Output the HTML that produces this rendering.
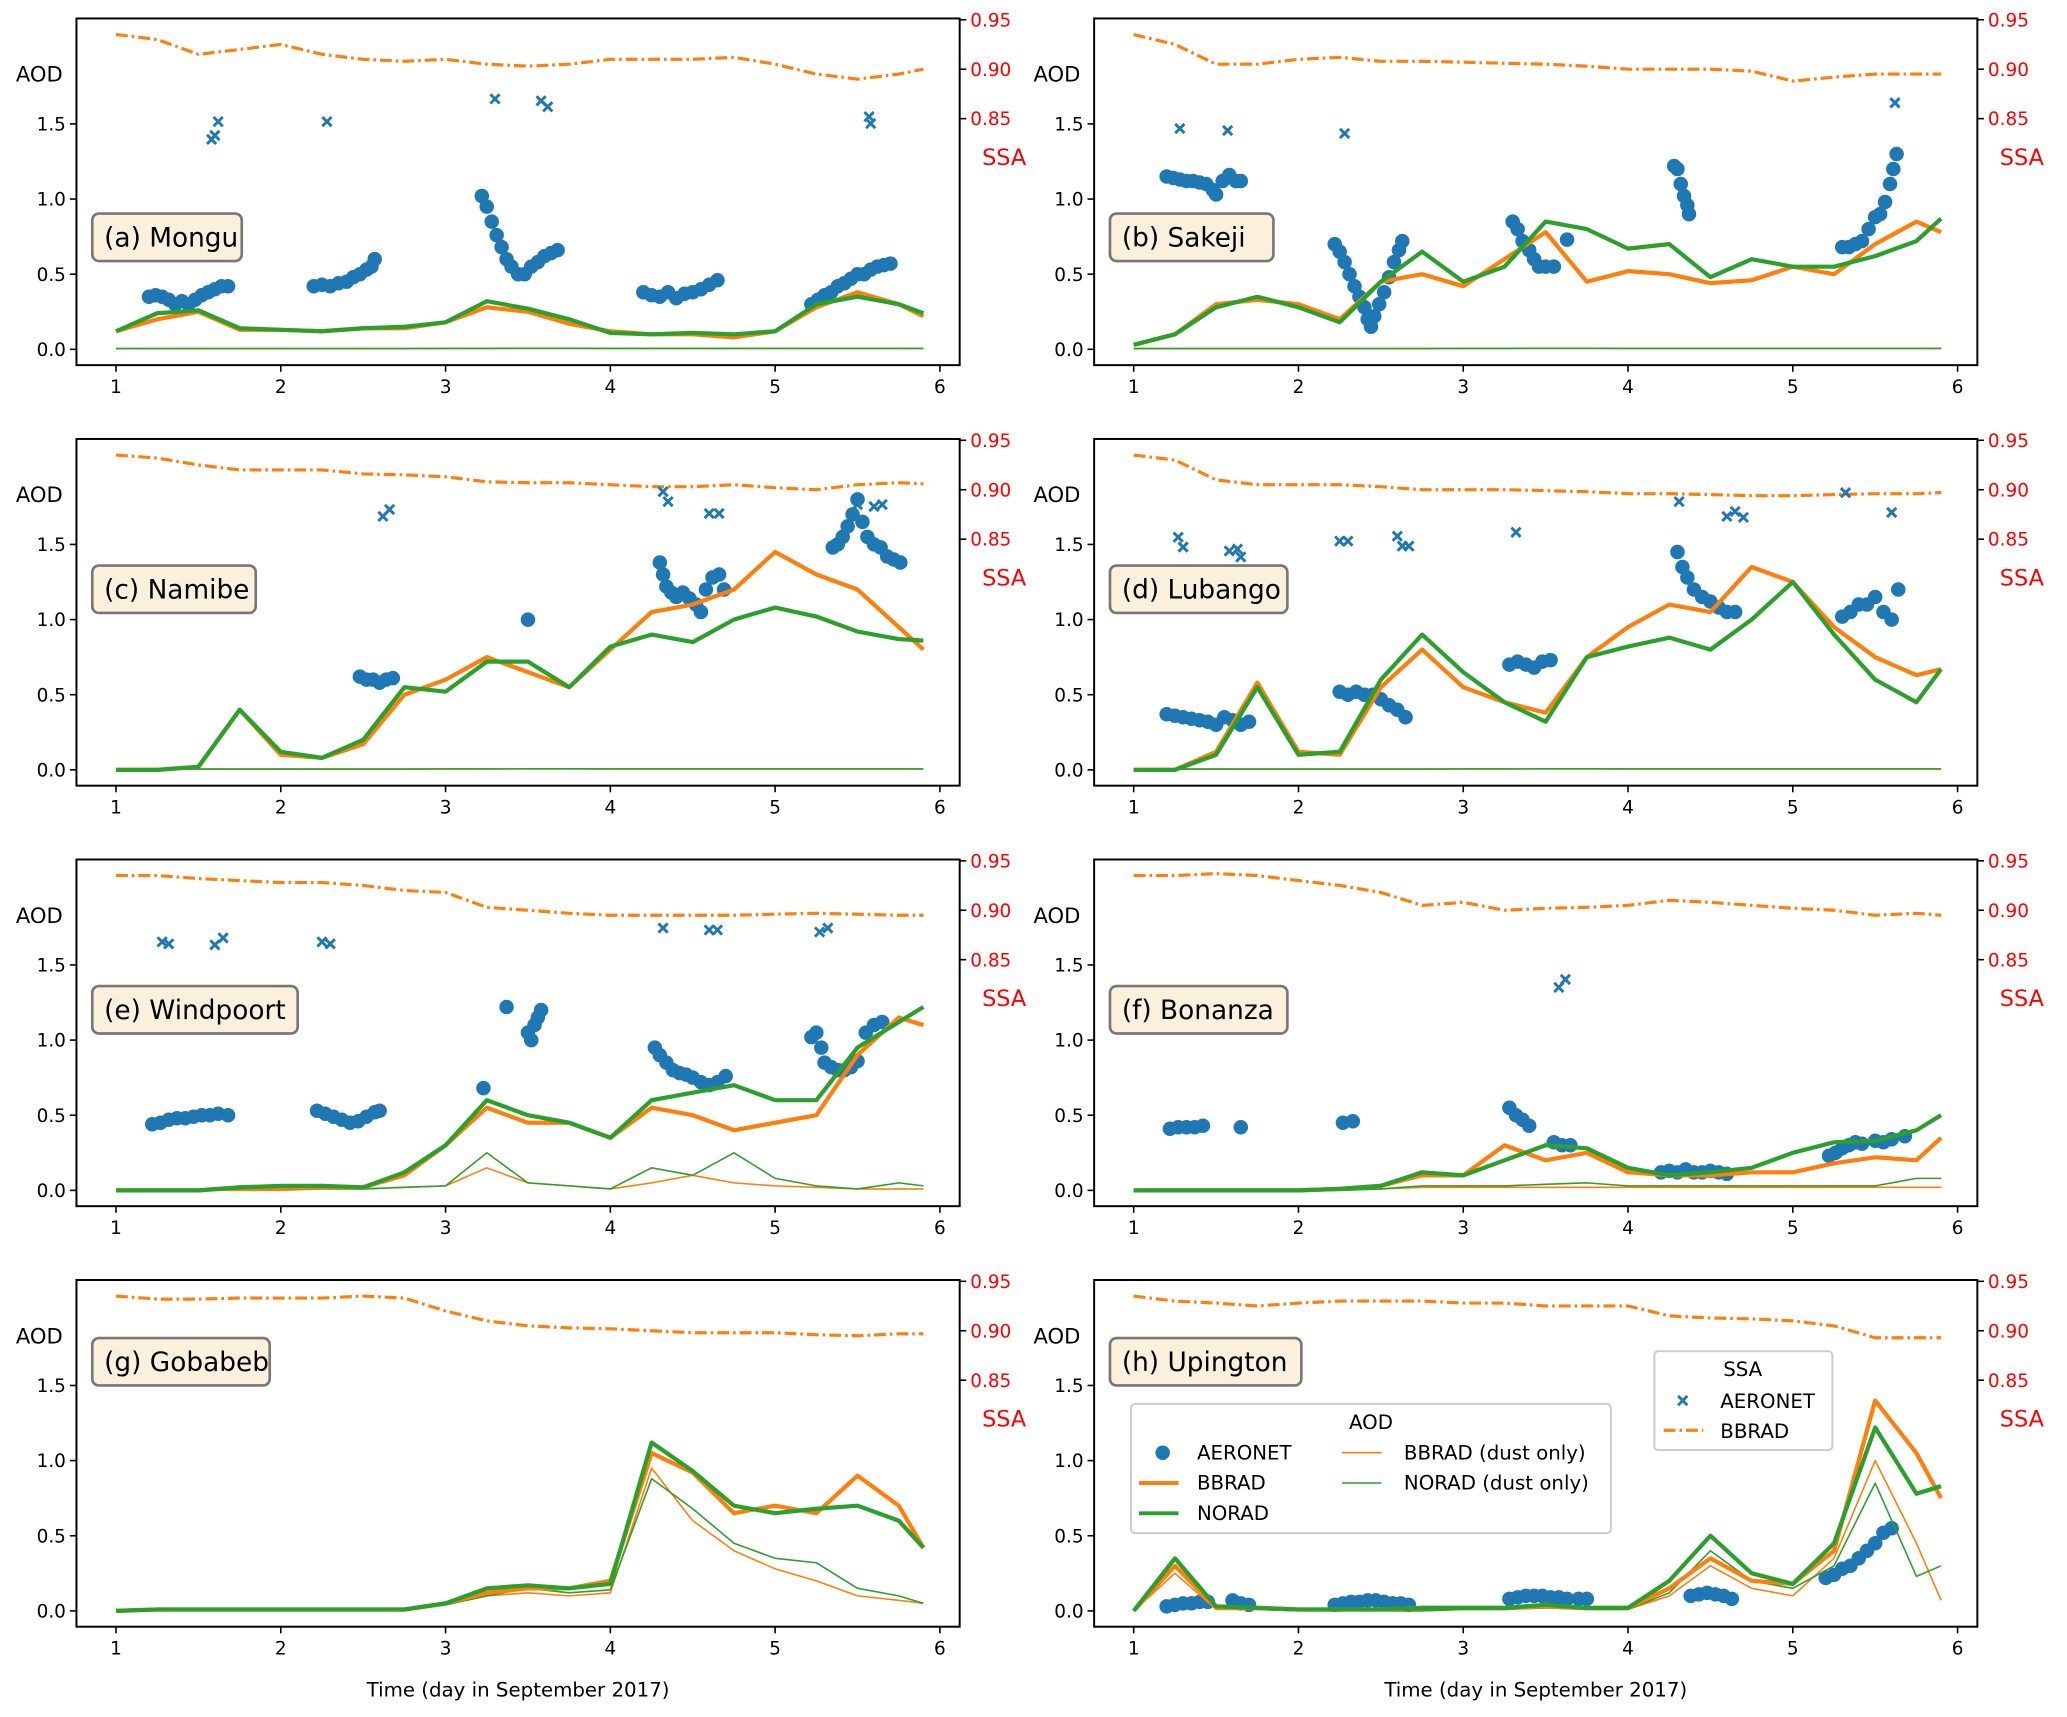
<!DOCTYPE html>
<html><head><meta charset="utf-8"><style>
html,body{margin:0;padding:0;background:#fff}
svg{display:block;font-family:"DejaVu Sans","Liberation Sans",sans-serif}
</style></head><body>
<svg id="fig" xmlns="http://www.w3.org/2000/svg" width="2067" height="1717" viewBox="0 0 1568 1302.5">
<text x="393" y="1287" font-size="15" text-anchor="middle">Time (day in September 2017)</text>
<text x="1165" y="1287" font-size="15" text-anchor="middle">Time (day in September 2017)</text>
</svg>
<script>
const T=[1,1.25,1.5,1.75,2,2.25,2.5,2.75,3,3.25,3.5,3.75,4,4.25,4.5,4.75,5,5.25,5.5,5.75,5.9];
const names=["(a) Mongu","(b) Sakeji","(c) Namibe","(d) Lubango","(e) Windpoort","(f) Bonanza","(g) Gobabeb","(h) Upington"];
const lowDust=[0.005,0.005,0.005,0.005,0.005,0.005,0.005,0.005,0.006,0.006,0.007,0.007,0.006,0.006,0.006,0.006,0.006,0.006,0.006,0.006,0.006];
const bbA=[0.12,0.2,0.25,0.13,0.13,0.12,0.14,0.14,0.18,0.28,0.25,0.17,0.12,0.1,0.1,0.08,0.12,0.28,0.38,0.3,0.22];
const noA=[0.12,0.24,0.26,0.14,0.13,0.12,0.14,0.15,0.18,0.32,0.27,0.2,0.11,0.1,0.11,0.1,0.12,0.3,0.35,0.3,0.24];
const ssA=[0.935,0.93,0.915,0.92,0.925,0.915,0.91,0.908,0.91,0.905,0.903,0.905,0.91,0.91,0.91,0.912,0.905,0.895,0.89,0.895,0.9];
const bbB=[0.03,0.1,0.3,0.33,0.3,0.2,0.45,0.5,0.42,0.6,0.78,0.45,0.52,0.5,0.44,0.46,0.55,0.5,0.7,0.85,0.78];
const noB=[0.03,0.1,0.28,0.35,0.28,0.18,0.45,0.65,0.45,0.55,0.85,0.8,0.67,0.7,0.48,0.6,0.55,0.55,0.62,0.72,0.87];
const ssB=[0.935,0.925,0.905,0.905,0.91,0.912,0.908,0.908,0.907,0.906,0.905,0.903,0.9,0.9,0.9,0.898,0.888,0.892,0.895,0.895,0.895];
const bbC=[0,0,0.02,0.4,0.1,0.08,0.17,0.5,0.6,0.75,0.65,0.55,0.8,1.05,1.1,1.2,1.45,1.3,1.2,0.95,0.8];
const noC=[0,0,0.02,0.4,0.12,0.08,0.2,0.55,0.52,0.72,0.72,0.55,0.82,0.9,0.85,1.0,1.08,1.02,0.92,0.87,0.86];
const ssC=[0.935,0.932,0.925,0.92,0.92,0.92,0.916,0.915,0.913,0.908,0.907,0.907,0.905,0.903,0.903,0.905,0.902,0.9,0.905,0.907,0.906];
const bbD=[0,0,0.12,0.58,0.12,0.1,0.55,0.8,0.55,0.45,0.38,0.75,0.95,1.1,1.05,1.35,1.25,0.95,0.75,0.63,0.67];
const noD=[0,0,0.1,0.55,0.1,0.12,0.6,0.9,0.65,0.45,0.32,0.75,0.82,0.88,0.8,1.0,1.25,0.9,0.6,0.45,0.67];
const ssD=[0.935,0.93,0.91,0.905,0.905,0.905,0.903,0.9,0.9,0.9,0.899,0.898,0.896,0.896,0.895,0.894,0.894,0.895,0.896,0.896,0.897];
const bbE=[0,0,0,0.02,0.02,0.02,0.02,0.1,0.3,0.55,0.45,0.45,0.35,0.55,0.5,0.4,0.45,0.5,0.9,1.15,1.1];
const noE=[0,0,0,0.02,0.03,0.03,0.02,0.12,0.3,0.6,0.5,0.45,0.35,0.6,0.65,0.7,0.6,0.6,0.95,1.12,1.22];
const bdE=[0,0,0,0,0,0.01,0.01,0.02,0.03,0.15,0.05,0.03,0.01,0.05,0.1,0.05,0.03,0.02,0.01,0.01,0.01];
const ndE=[0,0,0,0.01,0.01,0.01,0.01,0.02,0.03,0.25,0.05,0.03,0.01,0.15,0.1,0.25,0.08,0.03,0.01,0.05,0.03];
const ssE=[0.935,0.935,0.932,0.93,0.928,0.928,0.925,0.92,0.918,0.903,0.9,0.897,0.895,0.895,0.895,0.895,0.896,0.897,0.896,0.895,0.895];
const bbF=[0,0,0,0,0,0.01,0.03,0.1,0.1,0.3,0.2,0.25,0.12,0.1,0.1,0.12,0.12,0.18,0.22,0.2,0.35];
const noF=[0,0,0,0,0,0.01,0.03,0.12,0.1,0.2,0.3,0.28,0.15,0.1,0.12,0.15,0.25,0.32,0.33,0.4,0.5];
const bdF=[0,0,0,0,0,0,0.01,0.02,0.02,0.02,0.02,0.02,0.02,0.02,0.02,0.02,0.02,0.02,0.02,0.02,0.02];
const ndF=[0,0,0,0,0,0,0.01,0.03,0.03,0.03,0.04,0.05,0.03,0.03,0.03,0.03,0.03,0.03,0.03,0.08,0.08];
const ssF=[0.935,0.935,0.937,0.935,0.93,0.925,0.918,0.905,0.908,0.9,0.902,0.903,0.905,0.91,0.908,0.905,0.902,0.9,0.895,0.897,0.895];
const bbG=[0,0.01,0.01,0.01,0.01,0.01,0.01,0.01,0.05,0.12,0.15,0.15,0.2,1.05,0.92,0.65,0.7,0.65,0.9,0.7,0.42];
const noG=[0,0.01,0.01,0.01,0.01,0.01,0.01,0.01,0.05,0.15,0.17,0.15,0.18,1.12,0.93,0.7,0.65,0.68,0.7,0.6,0.42];
const bdG=[0,0,0,0,0,0,0,0,0.04,0.1,0.12,0.1,0.12,0.95,0.6,0.4,0.28,0.2,0.1,0.07,0.05];
const ndG=[0,0,0,0,0,0,0,0,0.04,0.1,0.15,0.12,0.14,0.88,0.68,0.45,0.35,0.32,0.15,0.1,0.05];
const ssG=[0.935,0.932,0.932,0.933,0.933,0.933,0.935,0.933,0.92,0.91,0.905,0.903,0.902,0.9,0.898,0.898,0.898,0.896,0.895,0.897,0.897];
const bbH=[0,0.3,0.02,0.02,0.01,0.01,0.01,0.02,0.02,0.02,0.03,0.02,0.02,0.15,0.35,0.2,0.18,0.4,1.4,1.05,0.75];
const noH=[0,0.35,0.03,0.02,0.01,0.01,0.01,0.02,0.02,0.02,0.04,0.02,0.02,0.2,0.5,0.25,0.18,0.45,1.22,0.78,0.83];
const bdH=[0,0.25,0.01,0.01,0,0,0,0,0.01,0.01,0.02,0.01,0.01,0.1,0.3,0.15,0.1,0.35,1.0,0.45,0.07];
const ndH=[0,0.3,0.02,0.01,0,0,0,0,0.01,0.01,0.02,0.01,0.01,0.12,0.4,0.2,0.15,0.3,0.85,0.23,0.3];
const ssH=[0.935,0.93,0.928,0.925,0.928,0.93,0.93,0.93,0.928,0.928,0.925,0.925,0.925,0.915,0.913,0.912,0.91,0.905,0.893,0.893,0.893];
const xsA=[[1.58,0.829],[1.6,0.833],[1.62,0.847],[2.28,0.847],[3.3,0.87],[3.58,0.868],[3.62,0.862],[5.57,0.852],[5.58,0.845]];
const xsB=[[1.28,0.84],[1.57,0.838],[2.28,0.835],[5.62,0.866]];
const xsC=[[2.62,0.873],[2.66,0.88],[4.32,0.898],[4.35,0.888],[4.6,0.876],[4.66,0.876],[5.5,0.885],[5.6,0.883],[5.65,0.885]];
const xsD=[[1.27,0.852],[1.3,0.842],[1.58,0.838],[1.63,0.84],[1.65,0.832],[2.25,0.848],[2.3,0.848],[2.6,0.853],[2.63,0.843],[2.67,0.843],[3.32,0.857],[4.31,0.888],[4.6,0.873],[4.65,0.878],[4.7,0.872],[5.32,0.897],[5.6,0.877]];
const xsE=[[1.28,0.868],[1.32,0.866],[1.6,0.865],[1.65,0.872],[2.25,0.868],[2.3,0.866],[4.32,0.882],[4.6,0.88],[4.65,0.88],[5.27,0.878],[5.32,0.882]];
const xsF=[[3.58,0.822],[3.62,0.83]];
const dtA=[[1.2,.35],[1.24,.36],[1.28,.35],[1.32,.33],[1.36,.3],[1.4,.32],[1.44,.3],[1.48,.33],[1.52,.36],[1.56,.38],[1.6,.4],[1.64,.42],[1.68,.42],[2.2,.42],[2.25,.43],[2.3,.42],[2.35,.44],[2.4,.45],[2.44,.48],[2.48,.5],[2.52,.53],[2.55,.55],[2.57,.6],[3.22,1.02],[3.25,.95],[3.28,.85],[3.31,.76],[3.34,.68],[3.37,.6],[3.4,.55],[3.44,.5],[3.48,.5],[3.52,.55],[3.56,.58],[3.6,.62],[3.64,.64],[3.68,.66],[4.2,.38],[4.25,.36],[4.3,.35],[4.35,.38],[4.4,.34],[4.45,.37],[4.5,.38],[4.55,.4],[4.6,.43],[4.65,.46],[5.22,.3],[5.26,.33],[5.3,.36],[5.34,.38],[5.38,.42],[5.42,.44],[5.46,.47],[5.5,.5],[5.54,.5],[5.58,.53],[5.62,.55],[5.66,.56],[5.7,.57]];
const dtB=[[1.2,1.15],[1.24,1.14],[1.28,1.13],[1.32,1.12],[1.36,1.12],[1.4,1.11],[1.44,1.1],[1.48,1.06],[1.5,1.03],[1.54,1.12],[1.58,1.16],[1.62,1.12],[1.65,1.12],[2.22,.7],[2.25,.65],[2.28,.58],[2.31,.5],[2.34,.42],[2.37,.35],[2.4,.28],[2.42,.2],[2.44,.15],[2.46,.22],[2.49,.3],[2.52,.38],[2.55,.48],[2.58,.58],[2.61,.66],[2.63,.72],[3.3,.85],[3.33,.8],[3.36,.72],[3.4,.66],[3.43,.6],[3.46,.55],[3.5,.55],[3.55,.55],[3.63,.73],[4.28,1.22],[4.3,1.2],[4.32,1.1],[4.34,1.02],[4.36,.96],[4.37,.9],[5.3,.68],[5.34,.68],[5.38,.7],[5.42,.72],[5.46,.8],[5.5,.88],[5.53,.9],[5.56,.98],[5.59,1.1],[5.61,1.2],[5.63,1.3]];
const dtC=[[2.48,.62],[2.52,.6],[2.56,.6],[2.6,.58],[2.64,.6],[2.68,.61],[3.5,1.0],[4.3,1.38],[4.32,1.3],[4.34,1.22],[4.37,1.18],[4.4,1.15],[4.44,1.18],[4.48,1.14],[4.52,1.1],[4.55,1.05],[4.58,1.2],[4.62,1.28],[4.66,1.3],[4.69,1.2],[5.35,1.48],[5.38,1.5],[5.41,1.55],[5.44,1.62],[5.47,1.7],[5.5,1.8],[5.53,1.65],[5.56,1.55],[5.6,1.5],[5.64,1.48],[5.68,1.42],[5.72,1.4],[5.76,1.38]];
const dtD=[[1.2,.37],[1.25,.36],[1.3,.35],[1.35,.34],[1.4,.33],[1.45,.32],[1.5,.3],[1.55,.35],[1.6,.33],[1.65,.3],[1.7,.32],[2.25,.52],[2.3,.5],[2.35,.52],[2.4,.5],[2.45,.5],[2.5,.47],[2.55,.43],[2.6,.4],[2.65,.35],[3.28,.7],[3.33,.72],[3.38,.7],[3.43,.68],[3.48,.72],[3.53,.73],[4.3,1.45],[4.33,1.35],[4.36,1.28],[4.4,1.2],[4.45,1.15],[4.5,1.12],[4.55,1.08],[4.6,1.05],[4.65,1.05],[5.3,1.02],[5.35,1.05],[5.4,1.1],[5.45,1.1],[5.5,1.15],[5.55,1.05],[5.6,1.0],[5.64,1.2]];
const dtE=[[1.22,.44],[1.27,.45],[1.32,.47],[1.37,.48],[1.42,.48],[1.47,.49],[1.52,.5],[1.57,.5],[1.62,.51],[1.68,.5],[2.22,.53],[2.27,.51],[2.32,.49],[2.37,.47],[2.42,.45],[2.47,.46],[2.52,.49],[2.57,.52],[2.6,.53],[3.23,.68],[3.37,1.22],[3.5,1.05],[3.52,1.0],[3.54,1.1],[3.56,1.15],[3.58,1.2],[4.27,.95],[4.3,.9],[4.34,.85],[4.38,.8],[4.42,.78],[4.46,.77],[4.5,.75],[4.55,.72],[4.6,.7],[4.65,.72],[4.7,.76],[5.22,1.02],[5.25,1.05],[5.28,.95],[5.3,.85],[5.34,.82],[5.38,.8],[5.42,.8],[5.46,.82],[5.5,.86],[5.55,1.05],[5.6,1.1],[5.65,1.12]];
const dtF=[[1.22,.41],[1.27,.42],[1.32,.42],[1.37,.42],[1.42,.43],[1.65,.42],[2.27,.45],[2.33,.46],[3.28,.55],[3.32,.5],[3.36,.47],[3.4,.43],[3.55,.32],[3.6,.3],[3.65,.3],[4.2,.12],[4.25,.13],[4.3,.12],[4.35,.14],[4.4,.12],[4.45,.12],[4.5,.13],[4.55,.12],[4.6,.11],[5.22,.23],[5.26,.25],[5.3,.28],[5.34,.3],[5.38,.32],[5.42,.31],[5.5,.33],[5.55,.32],[5.6,.34],[5.68,.36]];
const dtH=[[1.2,.03],[1.25,.04],[1.3,.05],[1.35,.05],[1.4,.06],[1.45,.06],[1.6,.07],[1.65,.05],[1.7,.04],[2.22,.04],[2.27,.05],[2.32,.06],[2.37,.06],[2.42,.07],[2.47,.07],[2.52,.06],[2.57,.05],[2.62,.05],[2.67,.04],[3.28,.08],[3.33,.09],[3.38,.1],[3.43,.1],[3.48,.1],[3.53,.09],[3.58,.09],[3.63,.08],[3.7,.08],[3.75,.08],[4.38,.1],[4.43,.11],[4.48,.12],[4.53,.11],[4.58,.1],[4.63,.08],[5.2,.22],[5.25,.24],[5.3,.28],[5.35,.3],[5.4,.35],[5.45,.4],[5.5,.45],[5.55,.52],[5.6,.55]];
const aodTicks=[0,0.5,1,1.5];
const aodTickLabels=["0.0","0.5","1.0","1.5"];
const ssaTicks=[0.95,0.9,0.85];
const ssaTickLabels=["0.95","0.90","0.85"];
const dayTicks=[1,2,3,4,5,6];

const P=[
 {bb:bbA,no:noA,bd:lowDust,nd:lowDust,ss:ssA,xs:xsA,dt:dtA},
 {bb:bbB,no:noB,bd:lowDust,nd:lowDust,ss:ssB,xs:xsB,dt:dtB},
 {bb:bbC,no:noC,bd:lowDust,nd:lowDust,ss:ssC,xs:xsC,dt:dtC},
 {bb:bbD,no:noD,bd:lowDust,nd:lowDust,ss:ssD,xs:xsD,dt:dtD},
 {bb:bbE,no:noE,bd:bdE,nd:ndE,ss:ssE,xs:xsE,dt:dtE},
 {bb:bbF,no:noF,bd:bdF,nd:ndF,ss:ssF,xs:xsF,dt:dtF},
 {bb:bbG,no:noG,bd:bdG,nd:ndG,ss:ssG,xs:[],dt:[]},
 {bb:bbH,no:noH,bd:bdH,nd:ndH,ss:ssH,xs:[],dt:dtH}
];
const labelOffsets=[148,148,96,96,96,96,44,44];
const NS="http://www.w3.org/2000/svg";
const svg=document.getElementById('fig');
function mk(tag,attrs,parent,txt){const e=document.createElementNS(NS,tag);for(const k in attrs)e.setAttribute(k,attrs[k]);if(txt!==undefined)e.textContent=txt;(parent||svg).appendChild(e);return e;}
const ORANGE="#ff7f0e",GREEN="#2ca02c",BLUE="#1f77b4";
P.forEach((p,i)=>{
 const ox=i%2===0?58:830, oy=14+Math.floor(i/2)*319, W=670, H=263;
 const X=t=>ox+30+(t-1)*125, Y=v=>oy+251-v*114, S=s=>oy+1+(0.95-s)*750;
 const g=mk('g',{});
 
 
 const line=(arr,col,w,dash,nm)=>{const pts=T.map((t,k)=>X(t).toFixed(1)+','+Y(arr[k]).toFixed(1)).join(' ');
  const e=mk('polyline',{points:pts,fill:'none',stroke:col,'stroke-width':w,'stroke-linejoin':'round'},g);if(dash)e.setAttribute('stroke-dasharray',dash);
  
  };
 p.dt.forEach(d=>{const c=mk('circle',{cx:X(d[0]),cy:Y(d[1]),r:5.5,fill:BLUE},g);
  
  });
 line(p.bd,ORANGE,1.2,null,'bbrad-dust-line');
 line(p.nd,GREEN,1.2,null,'norad-dust-line');
 line(p.bb,ORANGE,3.2,null,'bbrad-aod-line');
 line(p.no,GREEN,3.2,null,'norad-aod-line');
 const sp=T.map((t,k)=>X(t).toFixed(1)+','+S(p.ss[k]).toFixed(1)).join(' ');
 const sl=mk('polyline',{points:sp,fill:'none',stroke:ORANGE,'stroke-width':2.4,'stroke-dasharray':'9,3,2,3'},g);
 
 
 p.xs.forEach(d=>{const x=X(d[0]),y=S(d[1]);const e=mk('path',{d:`M${x-3.5},${y-3.5}L${x+3.5},${y+3.5}M${x-3.5},${y+3.5}L${x+3.5},${y-3.5}`,stroke:BLUE,'stroke-width':2.2},g);
  
  });
 const fr=mk('rect',{x:ox,y:oy,width:W,height:H,fill:'none',stroke:'#000','stroke-width':1.5},g);
 
 
 aodTicks.forEach((v,k)=>{mk('line',{x1:ox-5,x2:ox,y1:Y(v),y2:Y(v),stroke:'#000','stroke-width':1.2},g);
  const t=mk('text',{x:ox-8,y:Y(v)+5,'font-size':14,'text-anchor':'end'},g,aodTickLabels[k]);
  
  });
 ssaTicks.forEach((v,k)=>{mk('line',{x1:ox+W,x2:ox+W+5,y1:S(v),y2:S(v),stroke:'#000','stroke-width':1.2},g);
  const t=mk('text',{x:ox+W+8,y:S(v)+5,'font-size':14,fill:'red'},g,ssaTickLabels[k]);
  
  });
 dayTicks.forEach(d=>{mk('line',{x1:X(d),x2:X(d),y1:oy+H,y2:oy+H+5,stroke:'#000','stroke-width':1.2},g);
  const t=mk('text',{x:X(d),y:oy+H+21,'font-size':14,'text-anchor':'middle'},g,String(d));
  
  });
 const al=mk('text',{x:ox-46,y:oy+48,'font-size':16},g,'AOD');
 
 
 const sl2=mk('text',{x:ox+W+17,y:oy+111,'font-size':17,fill:'red'},g,'SSA');
 
 
 const tw=names[i].length*10.6+18, lo=labelOffsets[i];
 const bx=mk('rect',{x:ox+12,y:oy+lo,width:tw,height:36,rx:5,fill:'#fbf0dc',stroke:'#777','stroke-width':2},g);
 
 
 const st=mk('text',{x:ox+21,y:oy+lo+25,'font-size':20},g,names[i]);
 
 
});
const lg=mk('g',{});


mk('rect',{x:858,y:1065,width:364,height:98,rx:3,fill:'#fff',stroke:'#ccc','stroke-width':1.5,'fill-opacity':0.85},lg);
mk('text',{x:1040,y:1084,'font-size':15,'text-anchor':'middle'},lg,'AOD');
mk('circle',{cx:882,cy:1102,r:5.5,fill:BLUE},lg);
mk('text',{x:908,y:1107,'font-size':15},lg,'AERONET');
mk('line',{x1:864,x2:894,y1:1125,y2:1125,stroke:ORANGE,'stroke-width':3},lg);
mk('text',{x:908,y:1130,'font-size':15},lg,'BBRAD');
mk('line',{x1:864,x2:894,y1:1148,y2:1148,stroke:GREEN,'stroke-width':3},lg);
mk('text',{x:908,y:1153,'font-size':15},lg,'NORAD');
mk('line',{x1:1018,x2:1048,y1:1102,y2:1102,stroke:ORANGE,'stroke-width':1.2},lg);
mk('text',{x:1065,y:1107,'font-size':15},lg,'BBRAD (dust only)');
mk('line',{x1:1018,x2:1048,y1:1125,y2:1125,stroke:GREEN,'stroke-width':1.2},lg);
mk('text',{x:1065,y:1130,'font-size':15},lg,'NORAD (dust only)');
const lg2=mk('g',{});


mk('rect',{x:1255,y:1025,width:135,height:75,rx:3,fill:'#fff',stroke:'#ccc','stroke-width':1.5,'fill-opacity':0.85},lg2);
mk('text',{x:1322,y:1044,'font-size':15,'text-anchor':'middle'},lg2,'SSA');
mk('path',{d:'M1273,1059L1280,1066M1273,1066L1280,1059',stroke:BLUE,'stroke-width':2.2},lg2);
mk('text',{x:1305,y:1068,'font-size':15},lg2,'AERONET');
mk('line',{x1:1262,x2:1292,y1:1085,y2:1085,stroke:ORANGE,'stroke-width':2.4,'stroke-dasharray':'9,3,2,3'},lg2);
mk('text',{x:1305,y:1091,'font-size':15},lg2,'BBRAD');
</script>
</body></html>
